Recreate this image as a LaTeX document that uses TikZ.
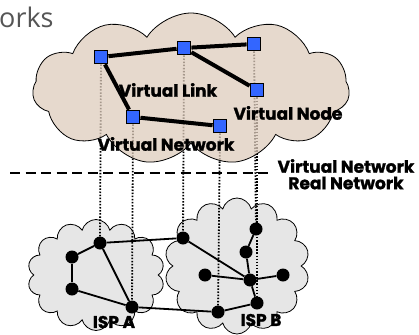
\documentclass[tikz,border=0pt]{standalone}
\usepackage{fontspec}
\setsansfont{Poppins}[BoldFeatures={FakeBold=1.2}]
\newfontfamily\titlefont{Open Sans}
\usetikzlibrary{shapes.symbols}

\definecolor{vblue}{HTML}{3366FF}
\definecolor{vcloudfill}{RGB}{222,204,188}
\definecolor{pcloudfill}{HTML}{E6E6E6}
\definecolor{titlegray}{HTML}{555555}

\pgfdeclarelayer{pclouds}
\pgfdeclarelayer{maps}
\pgfdeclarelayer{vback}
\pgfdeclarelayer{links}
\pgfsetlayers{pclouds,maps,vback,links,main}

\tikzset{
  vnode/.style={draw=black, line width=1.3pt, fill=vblue, minimum size=13.5pt, inner sep=0pt},
  pnode/.style={circle, fill=black, minimum size=13pt, inner sep=0pt},
  vlink/.style={line width=4pt},
  plink/.style={line width=1.8pt},
  mapline/.style={line width=1.8pt, dash pattern=on 1.5pt off 1.6pt},
  cloudbase/.style={cloud, cloud ignores aspect, draw=black, line width=0.8pt},
  lbl/.style={font=\sffamily\bfseries\fontsize{17}{17}\selectfont, inner sep=0pt},
}

\begin{document}
\begin{tikzpicture}[x=1pt,y=-1pt]
\useasboundingbox (0,0) rectangle (419,334);

% partial title
\node[anchor=base west, inner sep=0pt, text=titlegray,
      font=\titlefont\fontsize{27}{27}\selectfont] (title) at (-1,28) {orks};

% physical nodes, ISP A
\node[pnode] (a1) at (100,243) {};
\node[pnode] (a2) at (72,257) {};
\node[pnode] (a3) at (72,289) {};
\node[pnode] (a4) at (132,307) {};
% physical nodes, ISP B
\node[pnode] (b1) at (183,238) {};
\node[pnode] (b2) at (256,229) {};
\node[pnode] (b3) at (246,252) {};
\node[pnode] (b4) at (205,275) {};
\node[pnode] (b5) at (250,280) {};
\node[pnode] (b6) at (283,275) {};
\node[pnode] (b7) at (257,303) {};
\node[pnode] (b8) at (218,312) {};

% virtual nodes
\node[vnode] (v1) at (101,57) {};
\node[vnode] (v2) at (184,48) {};
\node[vnode] (v3) at (254,44) {};
\node[vnode] (v4) at (257,90) {};
\node[vnode] (v5) at (133,117) {};
\node[vnode] (v6) at (220,126) {};

% clouds of the two providers
\begin{pgfonlayer}{pclouds}
  \node[cloudbase, cloud puffs=14, fill=pcloudfill, minimum width=137pt, minimum height=111pt] (ispa) at (96,275) {};
  \node[cloudbase, cloud puffs=14, fill=pcloudfill, minimum width=145pt, minimum height=136pt] (ispb) at (237,266) {};
\end{pgfonlayer}

% mapping of virtual nodes onto physical nodes
\begin{pgfonlayer}{maps}
  \draw[mapline] (v1) -- (a1);
  \draw[mapline] (v5) -- (a4);
  \draw[mapline] (v2) -- (b1);
  \draw[mapline] (v6) -- (b8);
  \draw[mapline] (v3) -- (b2);
  \draw[mapline] (v4) -- (b7);
\end{pgfonlayer}

% virtual network cloud, translucent so the mapping lines show through faintly
\begin{pgfonlayer}{vback}
  \node[cloudbase, cloud puffs=11, cloud puff arc=115, fill=vcloudfill, fill opacity=0.75,
        minimum width=317pt, minimum height=152pt] (vcloud) at (191,89) {};
\end{pgfonlayer}

\begin{pgfonlayer}{links}
  % virtual links
  \draw[vlink] (v1) -- (v2);
  \draw[vlink] (v2) -- (v3);
  \draw[vlink] (v2) -- (v4);
  \draw[vlink] (v1) -- (v5);
  \draw[vlink] (v5) -- (v6);
  % physical links
  \draw[plink] (a1) -- (a2);
  \draw[plink] (a2) -- (a3);
  \draw[plink] (a3) -- (a4);
  \draw[plink] (a1) -- (a4);
  \draw[plink] (a1) -- (b1);
  \draw[plink] (a4) -- (b8);
  \draw[plink] (b1) -- (b5);
  \draw[plink] (b2) -- (b3);
  \draw[plink] (b3) -- (b5);
  \draw[plink] (b4) -- (b5);
  \draw[plink] (b5) -- (b6);
  \draw[plink] (b5) -- (b7);
  \draw[plink] (b7) -- (b8);
\end{pgfonlayer}

% separator between the two planes
\coordinate (sepL) at (10,173);
\coordinate (sepR) at (270,173);
\draw[line width=1.5pt, dash pattern=on 10pt off 5.5pt] (sepL) -- (sepR);

% labels
\node[lbl] (lvlink) at (168,90) {Virtual Link};
\node[lbl] (lvnode) at (288,113) {Virtual Node};
\node[lbl] (lvnet) at (166,144) {Virtual Network};
\node[lbl] (lplane1) at (346,166) {Virtual Network};
\node[lbl] (lplane2) at (346,183) {Real Network};
\node[lbl] (lispa) at (114,322) {ISP A};
\node[lbl] (lispb) at (261,320) {ISP B};
\end{tikzpicture}
\end{document}
